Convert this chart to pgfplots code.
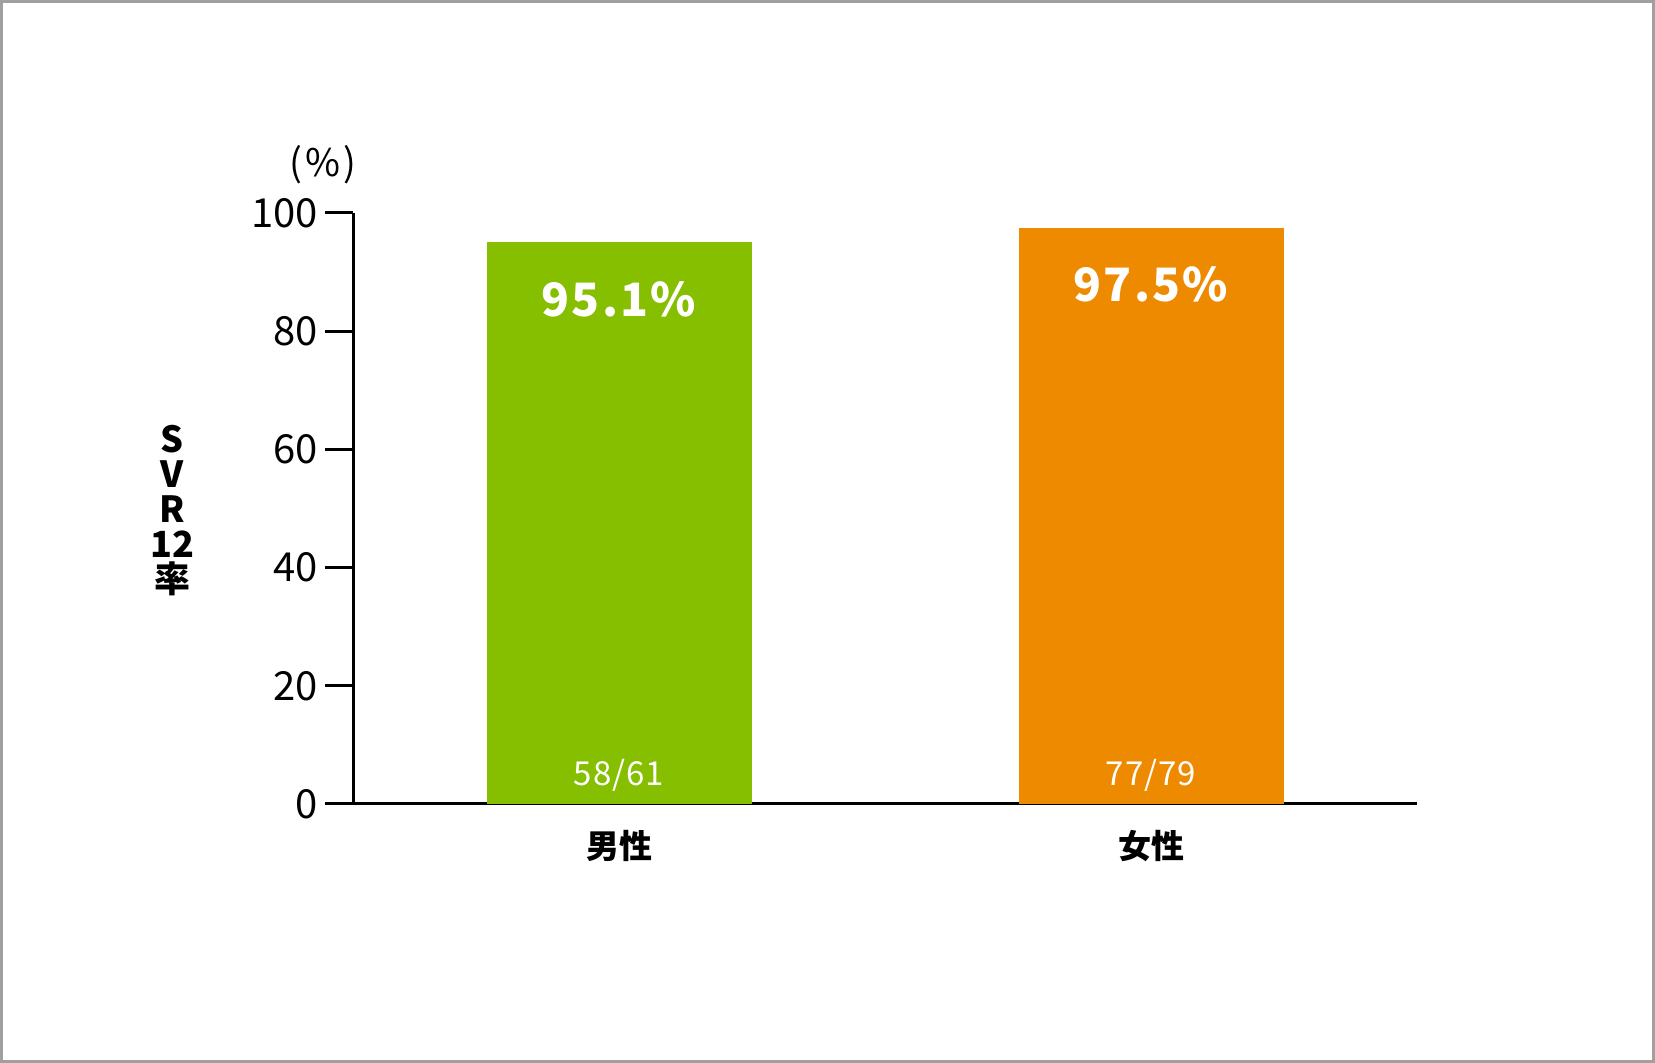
\documentclass[border=0pt]{standalone}
\usepackage{pgfplots}
\pgfplotsset{compat=1.18}
\usepackage{fontspec}
\setmainfont{Noto Sans CJK JP}
\definecolor{barG}{RGB}{134,190,0}
\definecolor{barO}{RGB}{238,138,0}
\definecolor{frameG}{RGB}{160,160,160}
\begin{document}
\begin{tikzpicture}
\useasboundingbox (0,0) rectangle (827.5pt,531.5pt);
\draw[frameG, line width=1.6pt] (0.8pt,0.8pt) rectangle (826.7pt,530.7pt);
\begin{axis}[
  at={(176.5pt,129.5pt)}, anchor=south west,
  scale only axis, width=532pt, height=295.5pt,
  xmin=0.5, xmax=2.5, ymin=0, ymax=100,
  axis lines*=left, axis line style={line width=1.5pt, -},
  ytick={0,20,40,60,80,100},
  tick align=outside, major tick length=14pt,
  ytick style={line width=1.5pt, black},
  xtick={1,2}, xticklabels={男性,女性},
  xtick style={draw=none},
  xticklabel style={font=\fontsize{16.5}{18}\selectfont\bfseries, yshift=4.5pt},
  yticklabel style={font=\fontsize{20}{22}\selectfont},
  /pgf/number format/assume math mode=true,
  clip=false,
  ybar, bar width=132.5pt, bar shift=0pt,
]
\addplot[fill=barG, draw=none] coordinates {(1,95.1)};
\addplot[fill=barO, draw=none] coordinates {(2,97.5)};
\node[white, font=\fontsize{23}{26}\selectfont\bfseries\addfontfeature{LetterSpace=5}] at (axis cs:1,85.4) {95.1\%};
\node[white, font=\fontsize{23}{26}\selectfont\bfseries\addfontfeature{LetterSpace=5}] at (axis cs:2,88.0) {97.5\%};
\node[white, font=\fontsize{16.5}{19}\selectfont\addfontfeature{LetterSpace=3}] at (axis cs:1,4.9) {58/61};
\node[white, font=\fontsize{16.5}{19}\selectfont\addfontfeature{LetterSpace=3}] at (axis cs:2,4.9) {77/79};
\node[font=\fontsize{19}{21}\selectfont] at (axis cs:0.443,108.1) {(\kern1.5pt\%\kern1.5pt)};
\end{axis}
\node[align=center, font=\fontsize{18}{17.5}\selectfont\bfseries] at (86pt,276pt) {S\\V\\R\\12\\率};
\end{tikzpicture}
\end{document}
